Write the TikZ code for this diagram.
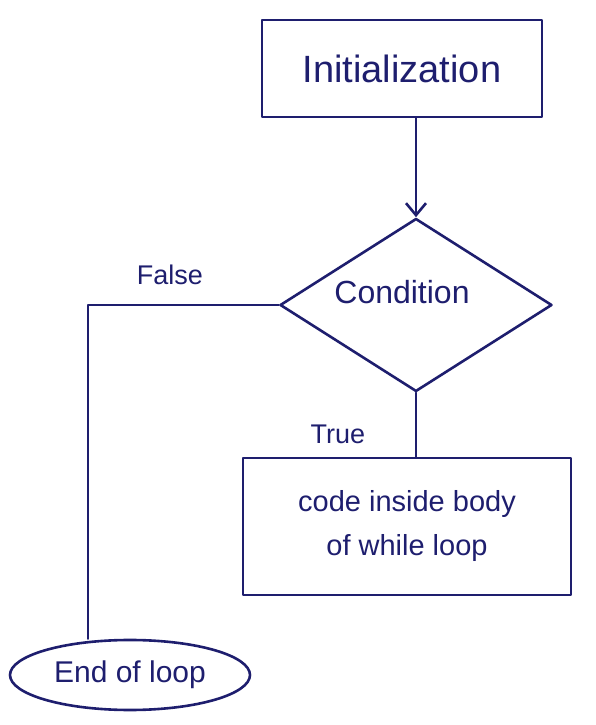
\documentclass[tikz,border=0pt]{standalone}
\usepackage{fontspec}
\setmainfont{Liberation Sans}
\usetikzlibrary{shapes.geometric,arrows.meta}
\definecolor{ink}{HTML}{1E1E6E}
\tikzset{
  pen/.style={draw=ink, line width=2.6pt, line cap=round, line join=round},
  lbl/.style={text=ink, inner sep=0pt},
  procbox/.style={pen, rectangle, inner sep=0pt, text=ink, align=center},
  decbox/.style={pen, diamond, inner sep=0pt, text=ink},
  termbox/.style={pen, ellipse, inner sep=0pt, text=ink},
  flow/.style={pen},
  flowarrow/.style={pen, -{Straight Barb[length=12pt,width=20pt,line width=2.6pt]}}
}
\begin{document}
\begin{tikzpicture}[x=1pt,y=1pt]
\useasboundingbox (0,0) rectangle (595,725);
\node[procbox, minimum width=280pt, minimum height=97pt, font=\fontsize{38}{40}\selectfont] (init) at (402,656.5) {Initialization};
\node[decbox, minimum width=272pt, minimum height=173pt] (cond) at (416,420) {};
\node[lbl, font=\fontsize{32}{34}\selectfont] (condt) at (402,433) {Condition};
\node[procbox, minimum width=328pt, minimum height=137pt, font=\fontsize{29}{44}\selectfont] (code) at (407,198.5) {code inside body\\of while loop};
\node[termbox, minimum width=240pt, minimum height=70pt, font=\fontsize{30}{32}\selectfont] (end) at (130,50) {End of loop};
\coordinate (fcorner) at (88,0);
\node[lbl, font=\fontsize{27}{30}\selectfont] (flbl) at (170,450) {False};
\node[lbl, font=\fontsize{27}{30}\selectfont] (tlbl) at (338,291) {True};
\draw[flowarrow] (cond.north |- init.south) -- (cond.north);
\draw[flow] (cond.west) -| (fcorner |- end.north);
\draw[flow] (cond.south) -- (cond.south |- code.north);
\end{tikzpicture}
\end{document}
